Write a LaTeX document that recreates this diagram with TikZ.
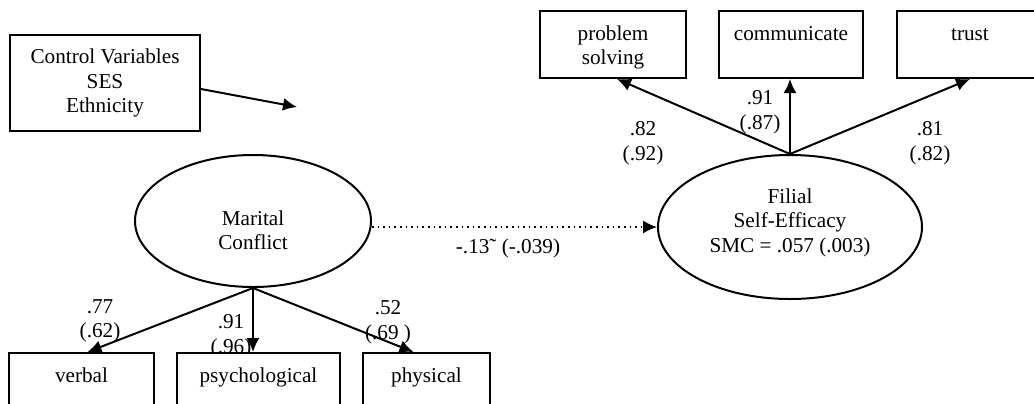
\documentclass[tikz,border=0pt]{standalone}
\usepackage{fontspec}
\setmainfont{Liberation Serif}
\usetikzlibrary{arrows.meta,shapes.geometric}

% text of an indicator box, set from the top of the box
\newcommand{\boxtext}[2]{\rule{0pt}{11.5pt}#1\\#2\strut}

\tikzset{
  obsbox/.style={draw, rectangle, fill=white, line width=1pt, align=center,
    minimum height=33.5pt, inner sep=0pt},
  latent/.style={draw, ellipse, line width=1pt, align=center, inner sep=0pt},
  load/.style={-{Latex[length=7pt,width=6.5pt]}, line width=1pt},
  coef/.style={align=center, inner sep=0pt}
}

\begin{document}
\begin{tikzpicture}[x=0.5pt, y=-0.5pt, font=\fontsize{10.6}{12.3}\selectfont]
        \useasboundingbox (0,0) rectangle (1034,403);
        \clip (0,0) rectangle (1034,403);

        % Control box and its free arrow
        \node[obsbox, minimum width=95pt, minimum height=48pt] (ctrl) at (105,83)
            {Control Variables\\SES\\Ethnicity};
        \coordinate (ctrlend) at (297,107);
        \draw[load] ([yshift=-3pt]ctrl.east) -- (ctrlend);

        % Latent variables
        \node[latent, minimum width=118pt, minimum height=66pt] (mar) at (253,221)
            {\rule{0pt}{16.5pt}Marital\\Conflict};
        \node[latent, minimum width=132pt, minimum height=72pt] (fil) at (790,227)
            {Filial\\Self-Efficacy\\SMC = .057 (.003)\rule[-6.5pt]{0pt}{1pt}};

        % Loadings (drawn before the boxes, which hide their lower part)
        \foreach \lname/\x/\y/\est/\std in {
            l1/643/143/.82/.92,
            l2/760/112/.91/.87,
            l3/930/143/.81/.82,
            l4/100/321/.77/.62,
            l5/231/336/.91/.96,
            l6/388/322/.52/.69
        } {
            \node[coef] (\lname) at (\x,\y) {\est\\(\std)};
        }
        \node[coef] (beta) at (508,248) {-.13˜ (-.039)};

        % Indicators of filial self-efficacy
        \node[obsbox, minimum width=73pt] (ps) at (613,44.5) {\boxtext{problem}{solving}};
        \node[obsbox, minimum width=72pt] (comm) at (791,44.5) {\boxtext{communicate}{}};
        \node[obsbox, minimum width=73pt] (trust) at (970,44.5) {\boxtext{trust}{}};

        % Indicators of marital conflict
        \node[obsbox, minimum width=72.5pt] (verb) at (81.5,386.5) {\boxtext{verbal}{}};
        \node[obsbox, minimum width=81.5pt] (psy) at (258.5,386.5) {\boxtext{psychological}{}};
        \node[obsbox, minimum width=63.5pt] (phys) at (426.5,386.5) {\boxtext{physical}{}};

        % Paths
        \draw[load] (fil.north) -- ([xshift=2pt]ps.south);
        \draw[load] (fil.north) -- (fil.north |- comm.south);
        \draw[load] (fil.north) -- (trust.south);
        \draw[load] (mar.south) -- ([xshift=3pt]verb.north);
        \draw[load] (mar.south) -- (mar.south |- psy.north);
        \draw[load] (mar.south) -- ([xshift=-6.5pt]phys.north);
        \draw[-{Latex[length=7pt,width=6.5pt]}, line width=0.8pt, dotted]
            (mar.east |- fil.west) -- (fil.west);
    \end{tikzpicture}
\end{document}
